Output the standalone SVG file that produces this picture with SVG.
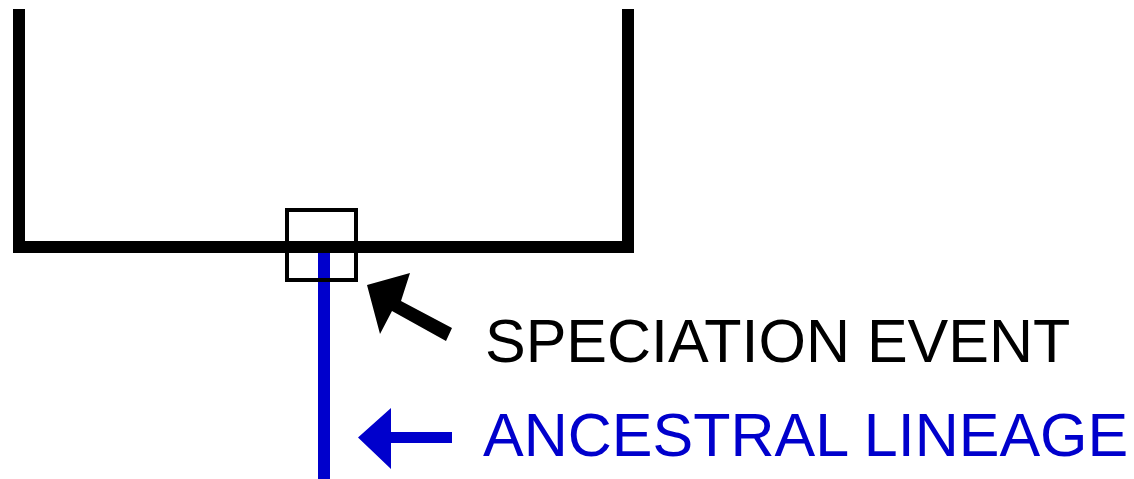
<svg xmlns="http://www.w3.org/2000/svg" width="1134" height="479" viewBox="0 0 1134 479">
  <style>
    .tree { fill: none; stroke: #000; stroke-width: 12; stroke-linejoin: miter; stroke-linecap: butt; }
    .box { fill: none; stroke: #000; stroke-width: 4; }
    .lineage { fill: none; stroke: #0000CC; stroke-width: 12; }
    .lbl { font-family: "Liberation Sans", Arial, sans-serif; font-size: 61px; }
    .black { fill: #000; }
    .blue { fill: #0000CC; }
  </style>
  <rect width="1134" height="479" fill="#fff"/>
  <g id="tree">
    <path class="tree" d="M19 9 V247 H628 V9"/>
  </g>
  <g id="ancestral-lineage">
    <line class="lineage" x1="324" y1="253" x2="324" y2="479"/>
  </g>
  <g id="speciation-event">
    <rect class="box" x="287" y="210" width="69" height="70"/>
  </g>
  <g id="connectors">
    <polygon class="black" points="367,285 410,273 401,301 452,328 446,341 392,311 380,334"/>
    <polygon class="blue" points="358,437.5 391,408 391,432 452,432 452,443 391,443 391,469"/>
  </g>
  <g id="labels">
    <text class="lbl black" x="485" y="362">SPECIATION EVENT</text>
    <text class="lbl blue" x="483" y="456">ANCESTRAL LINEAGE</text>
  </g>
</svg>
